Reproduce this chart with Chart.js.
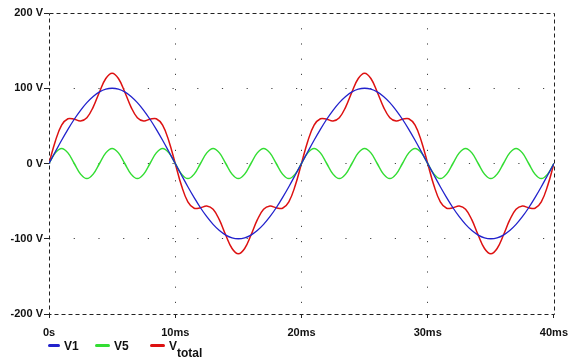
<!DOCTYPE html>
<html>
<head>
<meta charset="utf-8">
<script src="https://cdn.jsdelivr.net/npm/chart.js@4"></script>
<style>
  html, body { margin: 0; padding: 0; background: #fff; }
  #wrap { position: relative; width: 576px; height: 359px; }
  #legend { position: absolute; left: 47px; top: 339px; font: bold 12px "Liberation Sans", Arial, sans-serif; color: #111; }
  .item { position: absolute; top: 0; white-space: nowrap; }
  .mark { display: inline-block; width: 12px; height: 3px; border-radius: 2px; vertical-align: middle; margin-right: 4px; position: relative; top: -1px; }
  sub { font-size: 12px; position: relative; vertical-align: baseline; top: 7px; }
</style>
</head>
<body>
<div id="wrap">
  <canvas id="chart" width="576" height="359"></canvas>
  <div id="legend">
    <span class="item" style="left:1px"><span class="mark" style="background:#2222cc"></span>V1</span>
    <span class="item" style="left:48px"><span class="mark" style="background:#33dd33;width:15px"></span>V5</span>
    <span class="item" style="left:103px"><span class="mark" style="background:#dd1111;width:15px"></span>V<sub>total</sub></span>
  </div>
</div>
<script>
'use strict';

// time axis, ms
const times = [
  0, 0.5, 1, 1.5, 2, 2.5, 3, 3.5, 4, 4.5, 5, 5.5, 6, 6.5, 7, 7.5, 8, 8.5, 9, 9.5,
  10, 10.5, 11, 11.5, 12, 12.5, 13, 13.5, 14, 14.5, 15, 15.5, 16, 16.5, 17, 17.5, 18, 18.5, 19, 19.5,
  20, 20.5, 21, 21.5, 22, 22.5, 23, 23.5, 24, 24.5, 25, 25.5, 26, 26.5, 27, 27.5, 28, 28.5, 29, 29.5,
  30, 30.5, 31, 31.5, 32, 32.5, 33, 33.5, 34, 34.5, 35, 35.5, 36, 36.5, 37, 37.5, 38, 38.5, 39, 39.5,
  40
];

const v1 = [
  0, 15.6, 30.9, 45.4, 58.8, 70.7, 80.9, 89.1, 95.1, 98.8, 100, 98.8, 95.1, 89.1, 80.9, 70.7, 58.8, 45.4, 30.9, 15.6,
  0, -15.6, -30.9, -45.4, -58.8, -70.7, -80.9, -89.1, -95.1, -98.8, -100, -98.8, -95.1, -89.1, -80.9, -70.7, -58.8, -45.4, -30.9, -15.6,
  0, 15.6, 30.9, 45.4, 58.8, 70.7, 80.9, 89.1, 95.1, 98.8, 100, 98.8, 95.1, 89.1, 80.9, 70.7, 58.8, 45.4, 30.9, 15.6,
  0, -15.6, -30.9, -45.4, -58.8, -70.7, -80.9, -89.1, -95.1, -98.8, -100, -98.8, -95.1, -89.1, -80.9, -70.7, -58.8, -45.4, -30.9, -15.6,
  0
];

const v5 = [
  0, 14.1, 20, 14.1, 0, -14.1, -20, -14.1, 0, 14.1, 20, 14.1, 0, -14.1, -20, -14.1, 0, 14.1, 20, 14.1,
  0, -14.1, -20, -14.1, 0, 14.1, 20, 14.1, 0, -14.1, -20, -14.1, 0, 14.1, 20, 14.1, 0, -14.1, -20, -14.1,
  0, 14.1, 20, 14.1, 0, -14.1, -20, -14.1, 0, 14.1, 20, 14.1, 0, -14.1, -20, -14.1, 0, 14.1, 20, 14.1,
  0, -14.1, -20, -14.1, 0, 14.1, 20, 14.1, 0, -14.1, -20, -14.1, 0, 14.1, 20, 14.1, 0, -14.1, -20, -14.1,
  0
];

const vTotal = [
  0, 29.7, 50.9, 59.5, 58.8, 56.6, 60.9, 75.0, 95.1, 112.9, 120, 112.9, 95.1, 75.0, 60.9, 56.6, 58.8, 59.5, 50.9, 29.7,
  0, -29.7, -50.9, -59.5, -58.8, -56.6, -60.9, -75.0, -95.1, -112.9, -120, -112.9, -95.1, -75.0, -60.9, -56.6, -58.8, -59.5, -50.9, -29.7,
  0, 29.7, 50.9, 59.5, 58.8, 56.6, 60.9, 75.0, 95.1, 112.9, 120, 112.9, 95.1, 75.0, 60.9, 56.6, 58.8, 59.5, 50.9, 29.7,
  0, -29.7, -50.9, -59.5, -58.8, -56.6, -60.9, -75.0, -95.1, -112.9, -120, -112.9, -95.1, -75.0, -60.9, -56.6, -58.8, -59.5, -50.9, -29.7,
  0
];

const xTicks = [0, 10, 20, 30, 40];
const yTicks = [-200, -100, 0, 100, 200];

const toPoints = vals => vals.map((v, i) => ({ x: times[i], y: v }));

const FONT = { family: '"Liberation Sans", Arial, sans-serif', size: 11, weight: 'bold' };

// dashed frame round the plot area
const framePlugin = {
  id: 'frame',
  beforeDatasetsDraw(chart) {
    const { ctx, chartArea: a } = chart;
    ctx.save();
    ctx.strokeStyle = '#222';
    ctx.lineWidth = 1;
    ctx.setLineDash([4, 3]);
    ctx.strokeRect(Math.round(a.left) + 0.5, Math.round(a.top) + 0.5,
      Math.round(a.right - a.left), Math.round(a.bottom - a.top));
    ctx.restore();
  },
};

const edgeless = (min, max, c) => ctx =>
  (ctx.tick && (ctx.tick.value === min || ctx.tick.value === max)) ? 'rgba(0,0,0,0)' : c;

new Chart(document.getElementById('chart'), {
  type: 'line',
  data: {
    datasets: [
      { label: 'V1', data: toPoints(v1), borderColor: '#2222cc', borderWidth: 1.3 },
      { label: 'V5', data: toPoints(v5), borderColor: '#33dd33', borderWidth: 1.5 },
      { label: 'Vtotal', data: toPoints(vTotal), borderColor: '#dd1111', borderWidth: 1.5 },
    ],
  },
  options: {
    responsive: false,
    animation: false,
    events: [],
    elements: { point: { radius: 0 }, line: { tension: 0.4 } },
    layout: { padding: { left: 0, right: 20, top: 13, bottom: 18 } },
    plugins: { legend: { display: false }, tooltip: { enabled: false } },
    scales: {
      x: {
        type: 'linear',
        min: 0, max: 40,
        afterBuildTicks: s => { s.ticks = xTicks.map(v => ({ value: v })); },
        afterFit: s => { s.height = 27; },
        border: { display: false, dash: [1.2, 14] },
        grid: {
          color: edgeless(0, 40, '#444'),
          lineWidth: 1,
          tickLength: 4,
          tickColor: '#222',
          tickBorderDash: [],
        },
        ticks: {
          color: '#111', font: FONT, padding: 8, maxRotation: 0,
          callback: v => v === 0 ? '0s' : v + 'ms',
        },
      },
      y: {
        min: -200, max: 200,
        afterBuildTicks: s => { s.ticks = yTicks.map(v => ({ value: v })); },
        afterFit: s => { s.width = 49; },
        border: { display: false, dash: [1.2, 23.5] },
        grid: {
          color: edgeless(-200, 200, '#444'),
          lineWidth: 1,
          tickLength: 5,
          tickColor: '#222',
          tickBorderDash: [],
        },
        ticks: {
          color: '#111', font: FONT, padding: 1,
          callback: v => v + ' V',
        },
      },
    },
  },
  plugins: [framePlugin],
});
</script>
</body>
</html>
